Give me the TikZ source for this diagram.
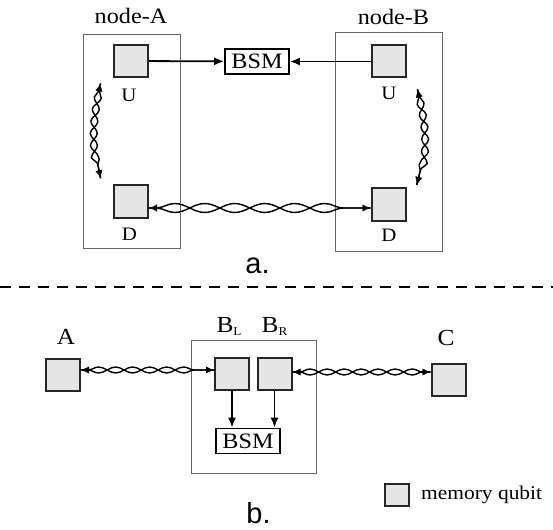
\documentclass[tikz,border=0pt]{standalone}
\usepackage{fontspec}
\setmainfont{Liberation Serif}[FakeStretch=1.1]
\newfontfamily\capfont{Liberation Sans}
\usetikzlibrary{arrows.meta,positioning,decorations.pathmorphing}

\begin{document}
\begin{tikzpicture}[x=1pt,y=-1pt,
 qubit/.style={draw=black!85,line width=2pt,fill=black!10,minimum width=34pt,minimum height=32pt,inner sep=0pt},
 frame/.style={draw=black!60,line width=1pt,inner sep=0pt},
 bsm/.style={draw,line width=1.7pt,fill=white,minimum width=64pt,minimum height=25pt,inner sep=0pt,font=\fontsize{22}{22}\selectfont},
 title/.style={inner sep=0pt,font=\fontsize{22}{22}\selectfont},
 small/.style={inner sep=0pt,font=\fontsize{19}{19}\selectfont},
 big/.style={inner sep=0pt,font=\fontsize{23}{23}\selectfont},
 part/.style={inner sep=0pt,font=\capfont\fontsize{29}{29}\selectfont},
 link/.style={-{Latex[length=10pt,width=8pt]},line width=1.8pt},
 twist/.style 2 args={{Latex[length=8pt,width=7pt]}-{Latex[length=8pt,width=7pt]},tips=true,draw=none,
  preaction={draw,-,line width=1.4pt,decorate,decoration={snake,amplitude=#1,segment length=#2,pre length=7pt,post length=7pt}},
  postaction={draw,-,line width=1.4pt,decorate,decoration={snake,mirror,amplitude=#1,segment length=#2,pre length=7pt,post length=7pt}}}]
 \useasboundingbox (0,0) rectangle (553,529);

 % a. two nodes, BSM in the middle
 \node[frame,minimum width=97pt,minimum height=213pt] (boxA) at (131.5,141.5) {};
 \node[frame,minimum width=107pt,minimum height=218pt] (boxB) at (388.5,142) {};
 \node[title,anchor=base] (nameA) at (131,24) {node-A};
 \node[title,anchor=base] (nameB) at (393.5,25) {node-B};
 \node[qubit] (uA) at (131,61) {};
 \node[qubit] (dA) at (131,201.5) {};
 \node[qubit] (uB) at (388.5,61.5) {};
 \node[qubit] (dB) at (388.5,204.5) {};
 \node[bsm] (bsmT) at (257,61.5) {BSM};
 \node[small,anchor=base] (uAlab) at (129,102) {U};
 \node[small,anchor=base] (dAlab) at (129.5,240) {D};
 \node[small,anchor=base] (uBlab) at (389,100) {U};
 \node[small,anchor=base] (dBlab) at (389,241) {D};
 \draw[link] (uA) -- (bsmT);
 \draw[link] (uB) -- (bsmT);
 \draw[twist={4.5pt}{60pt}] ([yshift=-6.5pt]dA.east) -- ([yshift=-3.5pt]dB.west);
 \draw[twist={3.5pt}{24pt}] ([xshift=-12.4pt,yshift=-5.4pt]uA.south west) to[bend right=12] ([xshift=-12.4pt,yshift=6.3pt]dA.north west);
 \draw[twist={3.5pt}{24pt}] ([xshift=10.9pt,yshift=-10.9pt]uB.south east) to[bend left=14] ([xshift=10.3pt,yshift=2.6pt]dB.north east);
 \node[part,anchor=base] (capA) at (257.5,273) {a.};

 \draw[line width=1.2pt,dash pattern=on 11pt off 8pt] (0,287) -- (553,287);

 % b. repeater in the middle
 \node[frame,minimum width=125pt,minimum height=133pt] (boxM) at (253.5,406.5) {};
 \node[qubit] (qA) at (63,375) {};
 \node[qubit] (qBL) at (232,373.5) {};
 \node[qubit] (qBR) at (274.5,373.5) {};
 \node[qubit] (qC) at (448.5,380) {};
 \node[bsm] (bsmB) at (248,441) {BSM};
 \node[big,anchor=base] (labA) at (66,344) {A};
 \node[big,anchor=base] (labBL) at (229,332) {B\raisebox{-3pt}{\fontsize{12}{12}\selectfont L}};
 \node[big,anchor=base] (labBR) at (274.5,332) {B\raisebox{-3pt}{\fontsize{12}{12}\selectfont R}};
 \node[big,anchor=base] (labC) at (446,345) {C};
 \draw[twist={3pt}{34pt}] ([yshift=5pt]qA.east) -- ([yshift=3.5pt]qBL.west);
 \draw[twist={3pt}{34pt}] ([yshift=1.5pt]qBR.east) -- ([yshift=8pt]qC.west);
 \draw[link] (qBL.south) -- (qBL.south |- bsmB.north);
 \draw[link] (qBR.south) -- (qBR.south |- bsmB.north);
 \node[qubit,minimum width=24pt,minimum height=22pt] (key) at (397,495) {};
 \node[inner sep=0pt,font=\fontsize{19.5}{19.5}\selectfont,right=11pt of key] (keytext) {memory qubit};
 \node[part,anchor=base] (capB) at (258.5,523) {b.};
\end{tikzpicture}
\end{document}
